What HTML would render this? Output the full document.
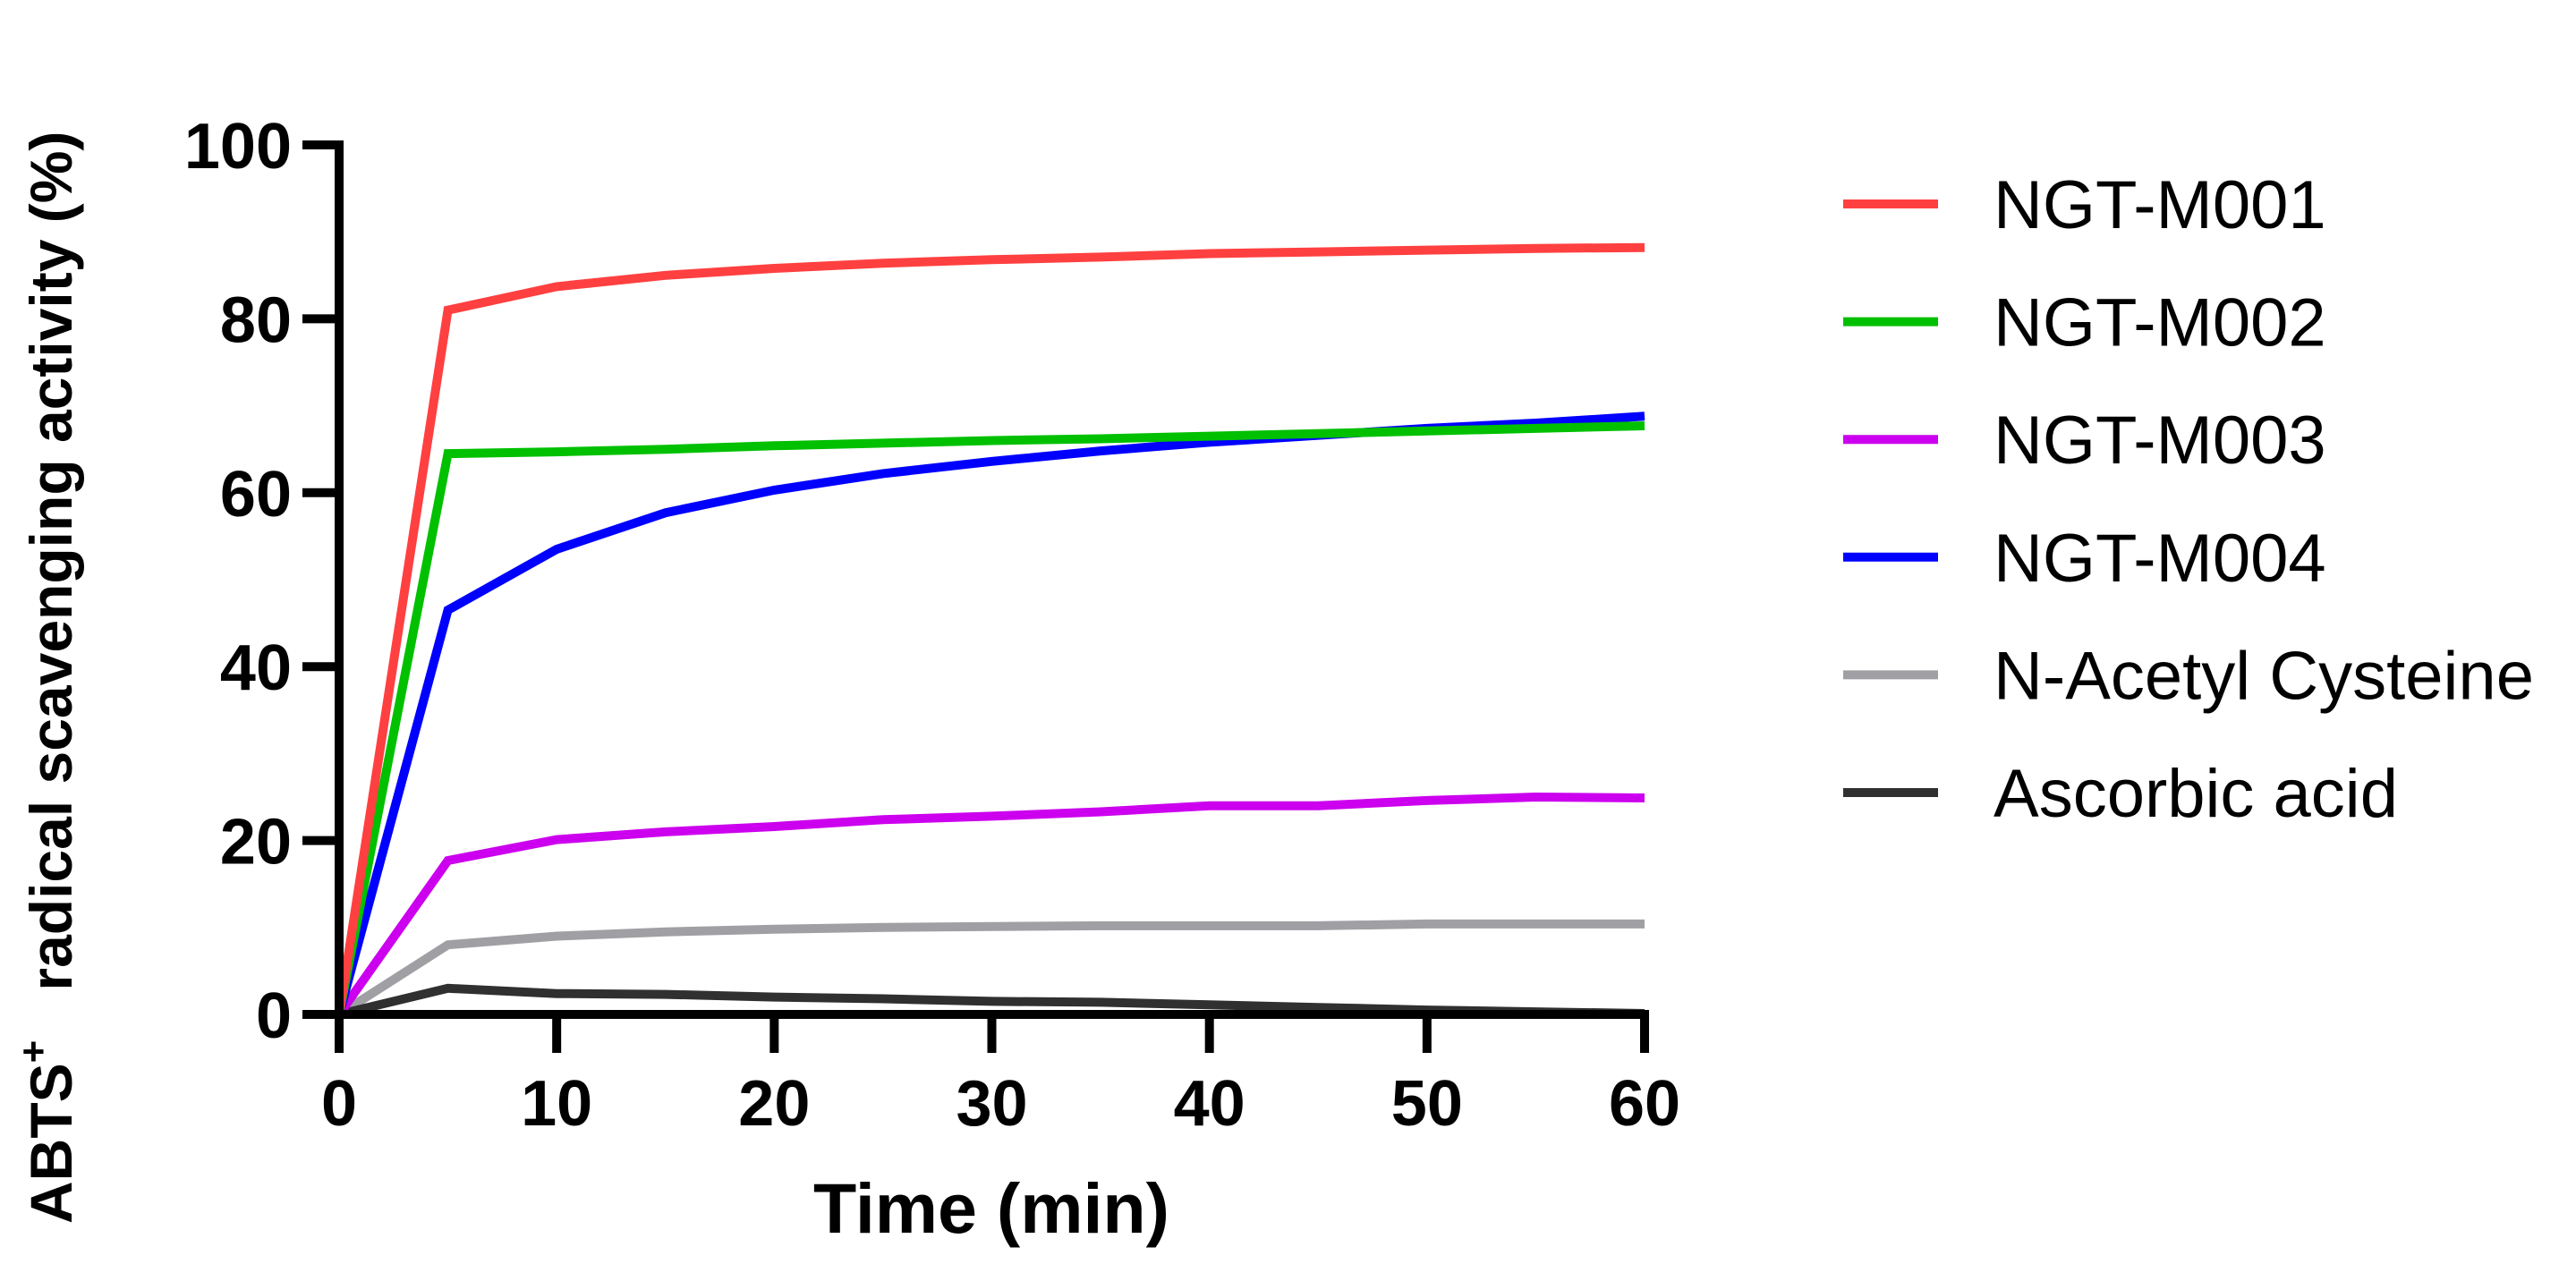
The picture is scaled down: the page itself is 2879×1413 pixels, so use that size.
<!DOCTYPE html>
<html><head><meta charset="utf-8"><style>
html,body{margin:0;padding:0;background:#fff;}
svg{display:block;}
text{font-family:"Liberation Sans",Arial,sans-serif;}
</style></head><body>
<svg id="chart" width="2879" height="1413" viewBox="0 0 2879 1413" xmlns="http://www.w3.org/2000/svg">
<g id="series"></g>
<g id="axes"></g>
<text x="1108" y="1378" text-anchor="middle" font-size="79" font-weight="bold">Time (min)</text>
<text transform="translate(80,1368) rotate(-90)" font-size="66" font-weight="bold">ABTS<tspan dy="-28" font-size="44">+</tspan><tspan dy="28" xml:space="preserve">   radical scavenging activity (%)</tspan></text>
<g id="legend"></g>
</svg>
<script>
const times = [0,5,10,15,20,25,30,35,40,45,50,55,60];
const seriesNames = ["NGT-M001","NGT-M002","NGT-M003","NGT-M004","N-Acetyl Cysteine","Ascorbic acid"];
const m001 = [0,81,83.7,85,85.8,86.4,86.8,87.1,87.5,87.7,87.9,88.1,88.2];
const m002 = [0,64.5,64.7,65,65.4,65.7,66,66.2,66.5,66.8,67.1,67.4,67.7];
const m003 = [0,17.7,20.1,21,21.6,22.4,22.8,23.3,24,24,24.6,25,24.9];
const m004 = [0,46.5,53.5,57.7,60.3,62.2,63.6,64.8,65.8,66.6,67.4,68,68.8];
const nac = [0,8,9,9.5,9.8,10,10.1,10.2,10.2,10.2,10.4,10.4,10.4];
const ascorbic = [0,3,2.4,2.3,2.0,1.8,1.5,1.4,1.1,0.8,0.5,0.3,0.1];
const xTicks = [0,10,20,30,40,50,60];
const yTicks = [0,20,40,60,80,100];

const NS = "http://www.w3.org/2000/svg";
const colors = ["#ff4040","#00c000","#cc00ee","#0000ff","#a0a0a4","#303030"];
const data = [m001,m002,m003,m004,nac,ascorbic];
const order = [4,5,2,3,1,0];
const X0=379, X1=1838, Y0=1134, Y1=162;
function xs(t){return X0+(t-0)/(60-0)*(X1-X0);}
function ys(v){return Y0-(v-0)/(100-0)*(Y0-Y1);}
function mk(tag,attrs,parent){const e=document.createElementNS(NS,tag);for(const k in attrs)e.setAttribute(k,attrs[k]);parent.appendChild(e);return e;}

const sg=document.getElementById('series');
order.forEach(i=>{
  const pts=times.map((t,j)=>xs(t).toFixed(1)+","+ys(data[i][j]).toFixed(1)).join(" ");
  const pl=mk('polyline',{points:pts,fill:'none',stroke:colors[i],'stroke-width':10,'stroke-linejoin':'miter'},sg);
  
  
});

const ag=document.getElementById('axes');
const xa=mk('line',{x1:X0-5,y1:Y0,x2:X1+5,y2:Y0,stroke:'#000','stroke-width':10},ag);


const ya=mk('line',{x1:X0,y1:Y1-5,x2:X0,y2:Y0+5,stroke:'#000','stroke-width':10},ag);


xTicks.forEach(t=>{
  const tk=mk('line',{x1:xs(t),y1:Y0,x2:xs(t),y2:1177,stroke:'#000','stroke-width':10},ag);
  
  
  const tl=mk('text',{x:xs(t),y:1258,'text-anchor':'middle','font-size':72,'font-weight':'bold'},ag);
  tl.textContent=t;
  
  
});
yTicks.forEach(v=>{
  const tk=mk('line',{x1:338,y1:ys(v),x2:X0,y2:ys(v),stroke:'#000','stroke-width':10},ag);
  
  
  const tl=mk('text',{x:326,y:ys(v)+26,'text-anchor':'end','font-size':72,'font-weight':'bold'},ag);
  tl.textContent=v;
  
  
});

const lg=document.getElementById('legend');
seriesNames.forEach((n,i)=>{
  const cy=228+i*131.6;
  const g=mk('g',{},lg);
  
  
  const sw=mk('line',{x1:2060,y1:cy,x2:2166,y2:cy,stroke:colors[i],'stroke-width':10},g);
  
  
  const tx=mk('text',{x:2228,y:cy+27,'font-size':76},g);
  tx.textContent=n;
  
  
});
</script>
</body></html>
